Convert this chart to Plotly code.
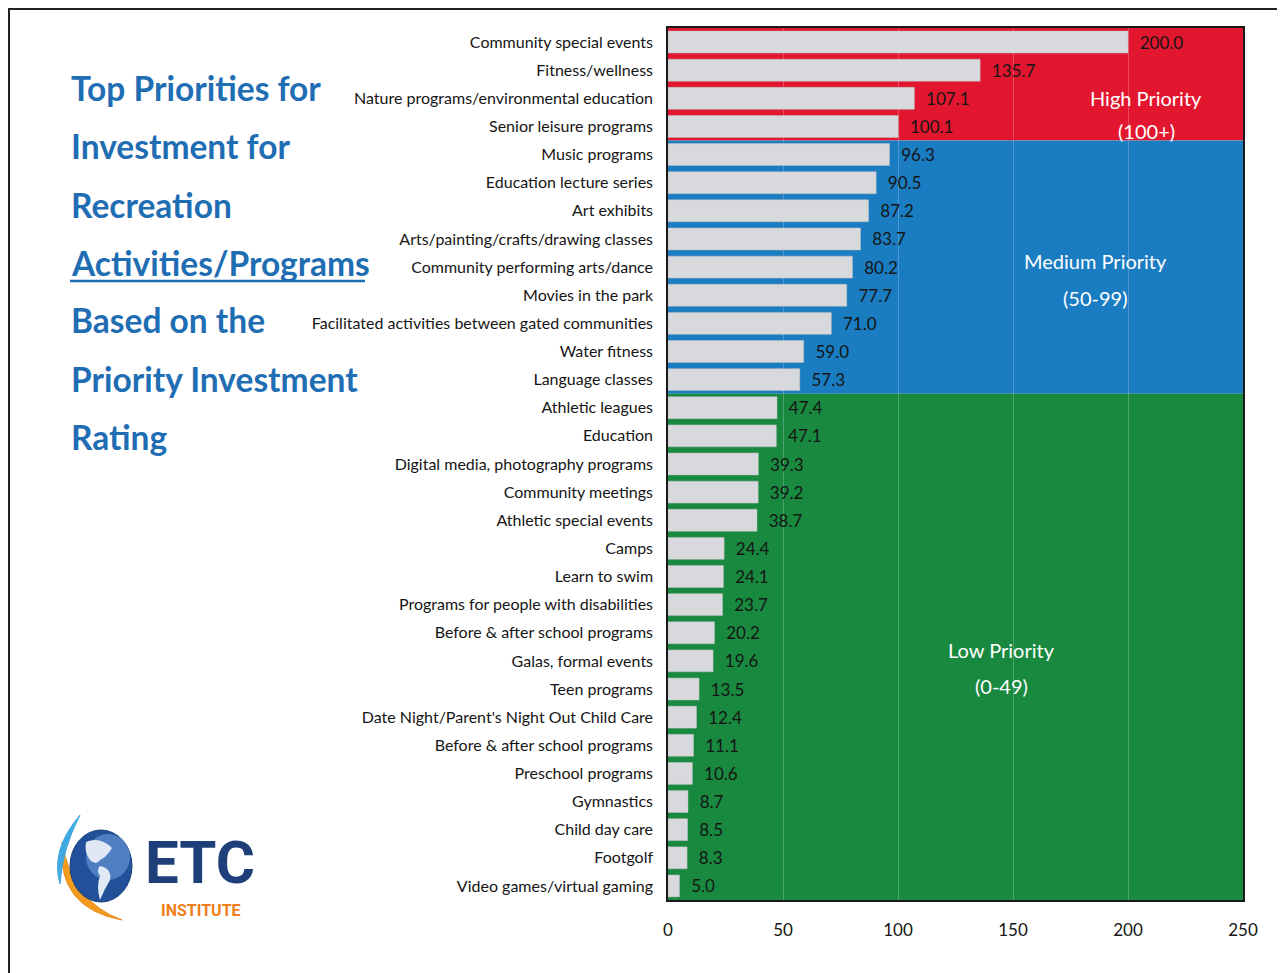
import plotly.graph_objects as go

# ---------------- data ----------------
categories = [
    "Community special events", "Fitness/wellness",
    "Nature programs/environmental education", "Senior leisure programs",
    "Music programs", "Education lecture series", "Art exhibits",
    "Arts/painting/crafts/drawing classes", "Community performing arts/dance",
    "Movies in the park", "Facilitated activities between gated communities",
    "Water fitness", "Language classes", "Athletic leagues", "Education",
    "Digital media, photography programs", "Community meetings",
    "Athletic special events", "Camps", "Learn to swim",
    "Programs for people with disabilities", "Before & after school programs",
    "Galas, formal events", "Teen programs",
    "Date Night/Parent's Night Out Child Care", "Before & after school programs",
    "Preschool programs", "Gymnastics", "Child day care", "Footgolf",
    "Video games/virtual gaming",
]
values = [200.0, 135.7, 107.1, 100.1, 96.3, 90.5, 87.2, 83.7, 80.2, 77.7, 71.0,
          59.0, 57.3, 47.4, 47.1, 39.3, 39.2, 38.7, 24.4, 24.1, 23.7, 20.2, 19.6,
          13.5, 12.4, 11.1, 10.6, 8.7, 8.5, 8.3, 5.0]
x_ticks = [0, 50, 100, 150, 200, 250]
priority_bands = [("High Priority", "(100+)", 100), ("Medium Priority", "(50-99)", 50),
                  ("Low Priority", "(0-49)", 0)]
title_lines = ["Top Priorities for", "Investment for", "Recreation",
               "Activities/Programs", "Based on the", "Priority Investment", "Rating"]

# ---------------- layout geometry (reference pixel coords) ----------------
OFF = 8                      # page body margin in the browser
W, H = 1285 - OFF, 973 - OFF
L, R, T, B = 668, 1243, 28, 900
def px(x): return (x - L) / (R - L)
def py(y): return (B - y) / (B - T)

band_colors = ["#e2172f", "#1a7cc1", "#18893f"]
FONT = "Lato, Calibri, 'Open Sans', sans-serif"

idx = list(range(len(categories)))
fig = go.Figure()
fig.add_trace(go.Bar(
    x=values, y=idx, orientation="h",
    marker=dict(color="#d8d9dc", line=dict(color="#bfc0c4", width=0.5)),
    text=["\u00a0\u00a0" + f"{v:.1f}" for v in values], textposition="outside",
    textfont=dict(family=FONT, size=17, color="#151515"),
    cliponaxis=False, hoverinfo="skip",
))

shapes = []
annotations = []
n = len(values)
start = -0.5
band_text_pos = [(208.0, 2.0, 3.15), (186.0, 7.8, 9.1), (144.8, 21.6, 22.9)]
for k, (name, rng, thr) in enumerate(priority_bands):
    members = [i for i, v in enumerate(values)
               if v >= thr and (k == 0 or v < priority_bands[k - 1][2])]
    end = max(members) + 0.5
    shapes.append(dict(type="rect", xref="x", yref="y", x0=0, x1=250, y0=start, y1=end,
                       fillcolor=band_colors[k], line=dict(width=0), layer="below"))
    start = end
    bx, by1, by2 = band_text_pos[k]
    for txt, yy in ((name, by1), (rng, by2)):
        annotations.append(dict(x=bx, y=yy, xref="x", yref="y", text=txt, showarrow=False,
                                xanchor="center", yanchor="middle",
                                font=dict(family=FONT, size=20, color="white")))

# title block
title_y = [88, 146, 205, 263, 320, 379, 437]
for t, yy in zip(title_lines, title_y):
    annotations.append(dict(x=px(69), y=py(yy), xref="paper", yref="paper", text="<b>" + t + "</b>",
                            showarrow=False, xanchor="left", yanchor="middle",
                            font=dict(family=FONT, size=33.5, color="#1f6db3")))
shapes.append(dict(type="line", xref="paper", yref="paper", x0=px(70), x1=px(365),
                   y0=py(281), y1=py(281), line=dict(color="#1f6db3", width=2.5)))

# page border
shapes.append(dict(type="rect", xref="paper", yref="paper", x0=px(OFF + 1), x1=px(1283),
                   y0=py(H + OFF + 5), y1=py(OFF + 1), line=dict(color="#222222", width=2),
                   layer="below"))
shapes.append(dict(type="line", xref="paper", yref="paper", x0=px(1280), x1=px(1280),
                   y0=py(405), y1=py(975), line=dict(color="#7cc6e6", width=1.5)))

# logo
def arc_path(pts):
    s = "M %f,%f" % (px(pts[0][0]), py(pts[0][1]))
    for i in range(1, len(pts) - 1, 2):
        s += " Q %f,%f %f,%f" % (px(pts[i][0]), py(pts[i][1]), px(pts[i + 1][0]), py(pts[i + 1][1]))
    return s
shapes.append(dict(type="path", xref="paper", yref="paper",
                   path=arc_path([(62, 842), (56, 908), (122, 920), (72, 902), (62, 842)]) + " Z",
                   fillcolor="#f29c1f", line=dict(color="#f08a1c", width=1)))
shapes.append(dict(type="path", xref="paper", yref="paper",
                   path=arc_path([(80, 815), (50, 850), (60, 884), (62, 850), (80, 815)]) + " Z",
                   fillcolor="#3fa9e0", line=dict(color="#3fa9e0", width=1)))
shapes.append(dict(type="circle", xref="paper", yref="paper", x0=px(70), x1=px(132),
                   y0=py(902), y1=py(830), fillcolor="#22519a", line=dict(color="#173d78", width=1)))
shapes.append(dict(type="circle", xref="paper", yref="paper", x0=px(86), x1=px(130),
                   y0=py(880), y1=py(834), fillcolor="#4f7fc0", line=dict(width=0)))
shapes.append(dict(type="path", xref="paper", yref="paper",
                   path=arc_path([(86, 842), (100, 836), (112, 848), (106, 858), (100, 860),
                                  (96, 866), (90, 860), (84, 852), (86, 842)]) + " Z",
                   fillcolor="#dfe8f4", line=dict(width=0)))
shapes.append(dict(type="path", xref="paper", yref="paper",
                   path=arc_path([(100, 866), (112, 868), (110, 880), (104, 890), (100, 900),
                                  (96, 886), (100, 876), (96, 870), (100, 866)]) + " Z",
                   fillcolor="#dfe8f4", line=dict(width=0)))
annotations.append(dict(x=px(200), y=py(862), xref="paper", yref="paper", text="<b>ETC</b>",
                        showarrow=False, xanchor="center", yanchor="middle",
                        font=dict(family="Roboto, sans-serif", size=60, color="#1e3f7a")))
annotations.append(dict(x=px(201), y=py(910), xref="paper", yref="paper", text="<b>INSTITUTE</b>",
                        showarrow=False, xanchor="center", yanchor="middle",
                        font=dict(family="Roboto, sans-serif", size=16, color="#ef7d1a")))

fig.update_layout(
    width=W, height=H,
    margin=dict(l=L - OFF, r=W - (R - OFF), t=T - OFF, b=H - (B - OFF), pad=0),
    paper_bgcolor="white", plot_bgcolor="white",
    bargap=0.22, showlegend=False,
    shapes=shapes, annotations=annotations,
    font=dict(family=FONT, color="#151515"),
    xaxis=dict(range=[0, 250], tickvals=x_ticks, showgrid=True,
               gridcolor="rgba(255,255,255,0.22)", gridwidth=1, zeroline=False,
               showline=True, linecolor="#1a1a1a", linewidth=1.5, mirror=True,
               ticks="outside", ticklen=14, tickcolor="rgba(0,0,0,0)",
               tickfont=dict(family=FONT, size=17, color="#151515")),
    yaxis=dict(range=[n - 0.5, -0.5], tickvals=idx, ticktext=categories,
               showgrid=False, zeroline=False,
               showline=True, linecolor="#1a1a1a", linewidth=1.5, mirror=True,
               ticks="outside", ticklen=10, tickcolor="rgba(0,0,0,0)",
               tickfont=dict(family=FONT, size=16, color="#151515")),
)

fig.write_html("out.html")
